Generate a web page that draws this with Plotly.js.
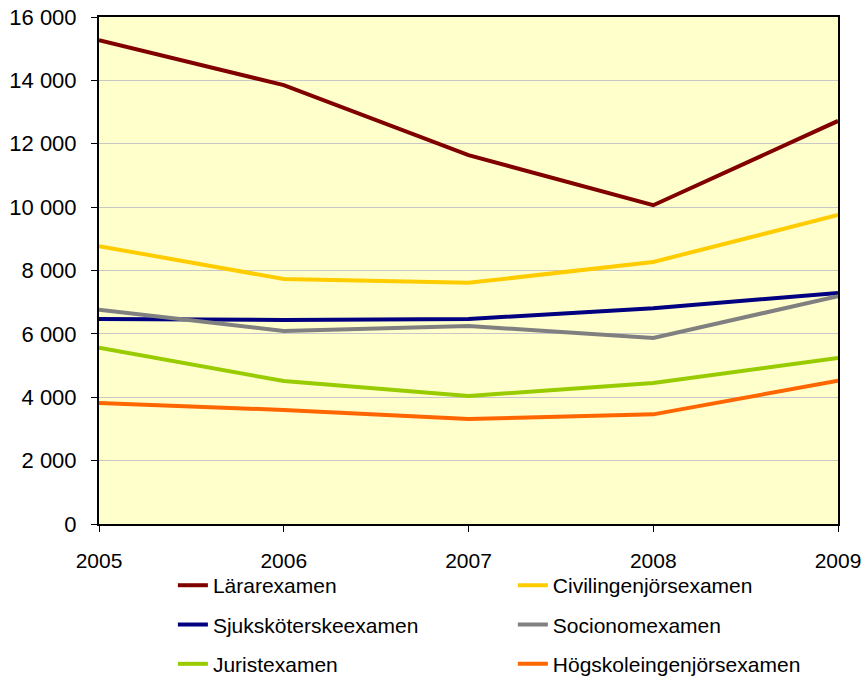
<!DOCTYPE html>
<html>
<head>
<meta charset="utf-8">
<script src="https://cdn.plot.ly/plotly-3.0.1.min.js"></script>
<style>html,body{margin:0;padding:0;background:#fff;}#chart{width:863px;height:677px;}</style>
</head>
<body>
<div id="chart"></div>
<script>
var years = [2005, 2006, 2007, 2008, 2009];
var lararexamen = [15270, 13850, 11640, 10060, 12720];
var civilingenjorsexamen = [8770, 7730, 7610, 8270, 9750];
var sjukskoterskeexamen = [6470, 6440, 6470, 6810, 7290];
var socionomexamen = [6760, 6090, 6250, 5870, 7190];
var juristexamen = [5560, 4510, 4040, 4450, 5240];
var hogskoleingenjorsexamen = [3820, 3600, 3310, 3460, 4520];
var seriesNames = ["Lärarexamen", "Civilingenjörsexamen", "Sjuksköterskeexamen", "Socionomexamen", "Juristexamen", "Högskoleingenjörsexamen"];
var yTickVals = [0, 2000, 4000, 6000, 8000, 10000, 12000, 14000, 16000];

var seriesData = [lararexamen, civilingenjorsexamen, sjukskoterskeexamen, socionomexamen, juristexamen, hogskoleingenjorsexamen];
var colors = ["#800000", "#FFCC00", "#000080", "#808080", "#99CC00", "#FF6600"];
var legendOf = ["legend", "legend2", "legend", "legend2", "legend", "legend2"];

var traces = seriesData.map(function (vals, i) {
  return {
    x: years, y: vals, name: seriesNames[i], type: "scatter", mode: "lines",
    line: {color: colors[i], width: 4},
    legend: legendOf[i], legendgroup: "g" + i
  };
});

var font = {family: "Liberation Sans, Arial, sans-serif", size: 21, color: "#000"};
var yfont = {family: "Liberation Sans, Arial, sans-serif", size: 22, color: "#000"};
var legendCommon = {
  orientation: "v", yanchor: "top", xanchor: "left",
  bgcolor: "rgba(0,0,0,0)", borderwidth: 0, tracegroupgap: 9,
  font: font
};

var layout = {
  width: 863, height: 677,
  margin: {l: 99, r: 25, t: 17, b: 153, autoexpand: false},
  paper_bgcolor: "#FFFFFF",
  plot_bgcolor: "#FFFFCC",
  font: font,
  showlegend: true,
  separators: ", ",
  xaxis: {
    type: "linear", range: [2005, 2009], tickvals: years, ticktext: years.map(String),
    showgrid: false, zeroline: false,
    showline: true, linecolor: "#000", linewidth: 2, mirror: true,
    ticks: "outside", ticklen: 6, tickcolor: "#000", tickwidth: 1,
    ticklabelstandoff: 11,
    tickfont: font
  },
  yaxis: {
    range: [0, 16000], tickvals: yTickVals, tickformat: ",d",
    showgrid: true, gridcolor: "#C8C8C8", gridwidth: 1, zeroline: false,
    showline: true, linecolor: "#000", linewidth: 2, mirror: true,
    ticks: "outside", ticklen: 6, tickcolor: "#000", tickwidth: 1,
    ticklabelstandoff: 10,
    tickfont: yfont
  },
  legend: Object.assign({}, legendCommon, {x: 0.1, y: -0.081}),
  legend2: Object.assign({}, legendCommon, {x: 0.56, y: -0.081})
};

Plotly.newPlot("chart", traces, layout, {displayModeBar: false, staticPlot: true});
</script>
</body>
</html>
